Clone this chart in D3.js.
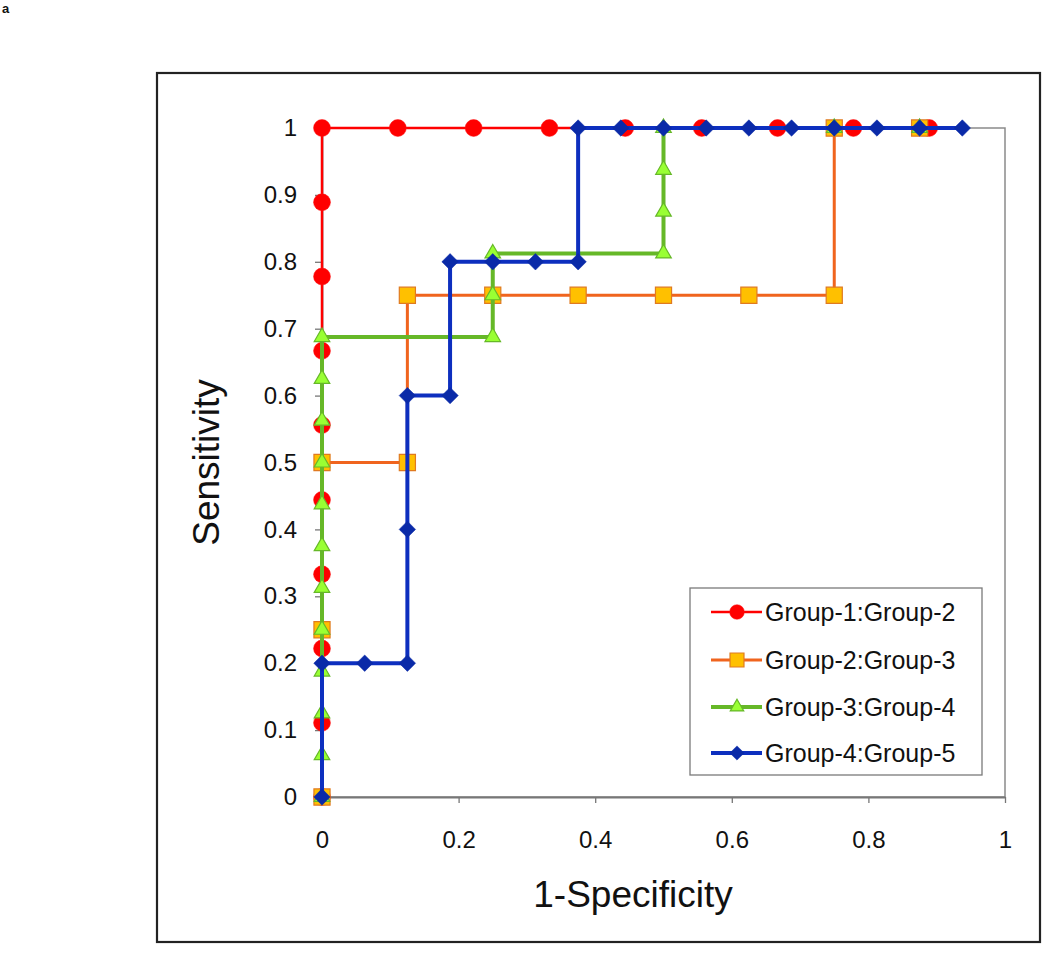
<!DOCTYPE html>
<html>
<head>
<meta charset="utf-8">
<script src="https://cdn.jsdelivr.net/npm/d3@7"></script>
<style>
  html, body { margin: 0; padding: 0; background: #fff; }
  svg { display: block; }
  text { font-family: "Liberation Sans", Arial, sans-serif; fill: #111; }
</style>
</head>
<body>
<script>
// ---- data ----
const seriesNames = ["Group-1:Group-2", "Group-2:Group-3", "Group-3:Group-4", "Group-4:Group-5"];

const g12x = [0, 0, 0, 0, 0, 0, 0, 0, 0, 0, 0.111, 0.222, 0.333, 0.444, 0.556, 0.667, 0.778, 0.889];
const g12y = [0, 0.111, 0.222, 0.333, 0.444, 0.556, 0.667, 0.778, 0.889, 1, 1, 1, 1, 1, 1, 1, 1, 1];

const g23x = [0, 0, 0, 0.125, 0.125, 0.25, 0.375, 0.5, 0.625, 0.75, 0.75, 0.875];
const g23y = [0, 0.25, 0.5, 0.5, 0.75, 0.75, 0.75, 0.75, 0.75, 0.75, 1, 1];

const g34x = [0, 0, 0, 0, 0, 0, 0, 0, 0, 0, 0, 0, 0.25, 0.25, 0.25, 0.5, 0.5, 0.5, 0.5, 0.75, 0.875];
const g34y = [0, 0.0625, 0.125, 0.1875, 0.25, 0.3125, 0.375, 0.4375, 0.5, 0.5625, 0.625, 0.6875, 0.6875, 0.75, 0.8125, 0.8125, 0.875, 0.9375, 1, 1, 1];

const g45x = [0, 0, 0.0625, 0.125, 0.125, 0.125, 0.1875, 0.1875, 0.25, 0.3125, 0.375, 0.375, 0.4375, 0.5, 0.5625, 0.625, 0.6875, 0.75, 0.8125, 0.875, 0.9375];
const g45y = [0, 0.2, 0.2, 0.2, 0.4, 0.6, 0.6, 0.8, 0.8, 0.8, 0.8, 1, 1, 1, 1, 1, 1, 1, 1, 1, 1];

const xTicks = [0, 0.2, 0.4, 0.6, 0.8, 1];
const yTicks = [0, 0.1, 0.2, 0.3, 0.4, 0.5, 0.6, 0.7, 0.8, 0.9, 1];
const xTickLabels = ["0", "0.2", "0.4", "0.6", "0.8", "1"];
const yTickLabels = ["0", "0.1", "0.2", "0.3", "0.4", "0.5", "0.6", "0.7", "0.8", "0.9", "1"];

// ---- layout ----
const W = 1050, H = 959;
const L = 322, R = 1005, T = 128, B = 797;

const svg = d3.select("body").append("svg").attr("width", W).attr("height", H);
svg.append("rect").attr("width", W).attr("height", H).attr("fill", "#fff");

svg.append("text").attr("x", 2).attr("y", 13).attr("font-size", 13).attr("font-weight", "bold").text("a");

// outer frame
svg.append("rect").attr("x", 157).attr("y", 73).attr("width", 883).attr("height", 869)
  .attr("fill", "none").attr("stroke", "#222").attr("stroke-width", 2.2);

const x = d3.scaleLinear().domain([0, 1]).range([L, R]);
const y = d3.scaleLinear().domain([0, 1]).range([B, T]);

// plot area border
svg.append("rect").attr("x", L).attr("y", T).attr("width", R - L).attr("height", B - T)
  .attr("fill", "none").attr("stroke", "#8a8a8a").attr("stroke-width", 1.5);

// axes
const xAxis = d3.axisBottom(x).tickValues(xTicks).tickFormat((d, i) => xTickLabels[i]).tickSizeInner(6).tickSizeOuter(0).tickPadding(28);
const yAxis = d3.axisLeft(y).tickValues(yTicks).tickFormat((d, i) => yTickLabels[i]).tickSizeInner(7).tickSizeOuter(0).tickPadding(18);

const gx = svg.append("g").attr("transform", `translate(0,${B})`).call(xAxis);
const gy = svg.append("g").attr("transform", `translate(${L},0)`).call(yAxis);
[gx, gy].forEach(g => {
  g.select(".domain").attr("stroke", "#777").attr("stroke-width", 1.8);
  g.selectAll(".tick line").attr("stroke", "#777").attr("stroke-width", 1.3);
  g.selectAll(".tick text").attr("font-size", 24).attr("fill", "#111")
    .attr("font-family", '"Liberation Sans", Arial, sans-serif');
});

// titles
svg.append("text").attr("x", 633).attr("y", 907).attr("text-anchor", "middle")
  .attr("font-size", 37).text("1-Specificity");
svg.append("text").attr("transform", `translate(219,${(T + B) / 2}) rotate(-90)`).attr("text-anchor", "middle")
  .attr("font-size", 37).text("Sensitivity");

// series
const styles = [
  { line: "#ff0000", lw: 2.5, sym: d3.symbolCircle, size: 225, rot: 0, fill: "#ff0000", stroke: "#ff1010", sw: 0.5 },
  { line: "#f0641e", lw: 3, sym: d3.symbolSquare, size: 260, rot: 0, fill: "#ffc000", stroke: "#e07a20", sw: 1.2 },
  { line: "#66b828", lw: 4, sym: d3.symbolTriangle, size: 105, rot: 0, fill: "#99ff33", stroke: "#66b828", sw: 1.2 },
  { line: "#0d2fbf", lw: 4, sym: d3.symbolSquare, size: 135, rot: 45, fill: "#0a2aa8", stroke: "#0a2aa8", sw: 0.5 }
];
const data = [
  g12x.map((v, i) => [v, g12y[i]]),
  g23x.map((v, i) => [v, g23y[i]]),
  g34x.map((v, i) => [v, g34y[i]]),
  g45x.map((v, i) => [v, g45y[i]])
];

const line = d3.line().x(d => x(d[0])).y(d => y(d[1]));

data.forEach((pts, si) => {
  const s = styles[si];
  const g = svg.append("g");
  g.append("path").attr("d", line(pts)).attr("fill", "none")
    .attr("stroke", s.line).attr("stroke-width", s.lw);
  g.selectAll("path.m").data(pts).enter().append("path").attr("class", "m")
    .attr("transform", d => `translate(${x(d[0])},${y(d[1])}) rotate(${s.rot})`)
    .attr("d", d3.symbol().type(s.sym).size(s.size))
    .attr("fill", s.fill).attr("stroke", s.stroke).attr("stroke-width", s.sw);
});

// legend
const lg = svg.append("g");
lg.append("rect").attr("x", 690).attr("y", 588).attr("width", 292).attr("height", 187)
  .attr("fill", "#fff").attr("stroke", "#7a7a7a").attr("stroke-width", 1.3);
const legY = [612, 660, 707, 753];
seriesNames.forEach((name, i) => {
  const s = styles[i];
  lg.append("line").attr("x1", 711).attr("x2", 762).attr("y1", legY[i]).attr("y2", legY[i])
    .attr("stroke", s.line).attr("stroke-width", s.lw);
  lg.append("path").attr("transform", `translate(737,${legY[i]}) rotate(${s.rot})`)
    .attr("d", d3.symbol().type(s.sym).size(s.size * 0.75))
    .attr("fill", s.fill).attr("stroke", s.stroke).attr("stroke-width", s.sw);
  lg.append("text").attr("x", 765).attr("y", legY[i]).attr("dy", "0.35em")
    .attr("font-size", 25).text(name);
});
</script>
</body>
</html>
